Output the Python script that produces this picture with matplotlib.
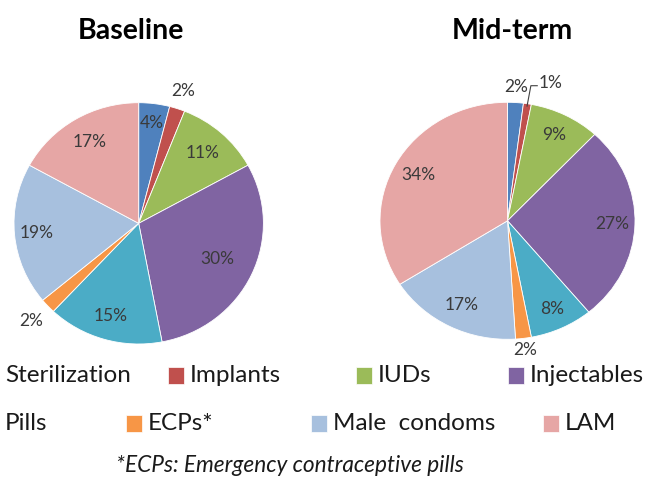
import numpy as np
import matplotlib.pyplot as plt
from matplotlib.patches import Rectangle

plt.rcParams['font.family'] = ['Lato', 'DejaVu Sans']

# data
methods = ['Sterilization', 'Implants', 'IUDs', 'Injectables',
           'Pills', 'ECPs*', 'Male  condoms', 'LAM']
colors = ['#4F81BD', '#C0504D', '#9BBB59', '#8064A2',
          '#4BACC6', '#F79646', '#A7C0DE', '#E6A6A5']
baseline = [4, 2, 11, 30, 15, 2, 19, 17]
midterm = [2, 1, 9, 27, 8, 2, 17, 34]

# radial position of each label (fraction of radius)
base_lr = [0.84, 1.15, 0.78, 0.70, 0.80, 1.18, 0.82, 0.78]
mid_lr = [1.13, None, 0.81, 0.82, 0.82, 1.10, 0.80, 0.80]

W, H = 646, 482
fig = plt.figure(figsize=(W / 100, H / 100), dpi=100)


def px_axes(x0, y0, w, h):
    # axes from pixel box (top-left origin)
    return fig.add_axes([x0 / W, 1 - (y0 + h) / H, w / W, h / H])


def draw_pie(ax, vals, lr):
    wedges, _ = ax.pie(vals, colors=colors, startangle=90, counterclock=False,
                       wedgeprops=dict(edgecolor='white', linewidth=0.6))
    ax.set_xlim(-1, 1)
    ax.set_ylim(-1, 1)
    ax.set_aspect('auto')
    ax.axis('off')
    for w, v, r in zip(wedges, vals, lr):
        if r is None:
            continue
        a = np.deg2rad((w.theta1 + w.theta2) / 2)
        ax.text(r * np.cos(a), r * np.sin(a), f'{v}%', ha='center', va='center',
                fontsize=12.5, color='#3a3a3a', clip_on=False)
    return wedges


ax1 = px_axes(14, 102.7, 249.4, 241.3)
draw_pie(ax1, baseline, base_lr)

ax2 = px_axes(380, 102.3, 255, 237)
w2 = draw_pie(ax2, midterm, mid_lr)
# leader line for the 1% slice
a = np.deg2rad((w2[1].theta1 + w2[1].theta2) / 2)
x0, y0 = 0.98 * np.cos(a), 0.98 * np.sin(a)
ax2.plot([x0, x0 + 0.03, x0 + 0.08], [y0, 1.14, 1.14], color='#404040',
         lw=0.8, clip_on=False)
ax2.text(x0 + 0.09, 1.16, f'{midterm[1]}%', ha='left', va='center',
         fontsize=12.5, color='#3a3a3a', clip_on=False)

fig.text(131 / W, 1 - 31 / H, 'Baseline', ha='center', va='center',
         fontsize=20.5, fontweight='bold')
fig.text(512 / W, 1 - 31 / H, 'Mid-term', ha='center', va='center',
         fontsize=20.5, fontweight='bold')

# legend, laid out as in the source figure
leg_x = [5, 190, 378, 530, 5, 148, 333, 565]
leg_y = [376, 376, 376, 376, 424, 424, 424, 424]
for i, (m, c) in enumerate(zip(methods, colors)):
    x, y = leg_x[i], leg_y[i]
    if m not in ('Sterilization', 'Pills'):
        fig.patches.append(Rectangle(((x - 22) / W, 1 - (y + 8) / H), 16 / W, 17 / H,
                                     transform=fig.transFigure, facecolor=c,
                                     edgecolor='white', lw=0.5))
    fig.text(x / W, 1 - y / H, m, ha='left', va='center', fontsize=17.5,
             color='#1a1a1a')

fig.text(290 / W, 1 - 465 / H, '*ECPs: Emergency contraceptive pills',
         ha='center', va='center', fontsize=16.3, style='italic', color='#1a1a1a')

fig.savefig('out.png', dpi=100)
